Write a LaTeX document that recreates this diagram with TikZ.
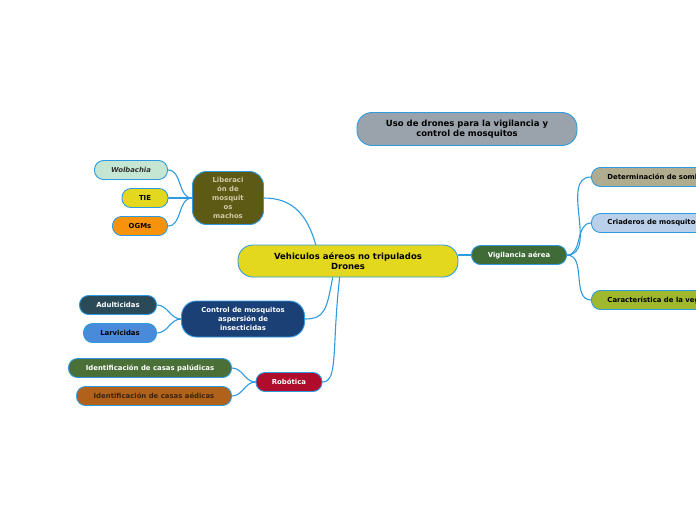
\documentclass[tikz,border=0pt]{standalone}
\usepackage{fontspec}
\setmainfont{DejaVu Sans}
\usetikzlibrary{positioning}

\definecolor{dmLink}{HTML}{2E9BE0}
\definecolor{dmTitleGray}{HTML}{9AA3AB}
\definecolor{dmYellow}{HTML}{E4D81E}
\definecolor{dmOlive}{HTML}{5C5A14}
\definecolor{dmOliveText}{HTML}{D2CAA8}
\definecolor{dmMint}{HTML}{C4E6D2}
\definecolor{dmOrange}{HTML}{F7920C}
\definecolor{dmNavy}{HTML}{1B4075}
\definecolor{dmSlate}{HTML}{2B4A57}
\definecolor{dmSky}{HTML}{4A8ADA}
\definecolor{dmRed}{HTML}{B00D2C}
\definecolor{dmGreen}{HTML}{4A7038}
\definecolor{dmBrown}{HTML}{B0611A}
\definecolor{dmBrownText}{HTML}{3A2410}
\definecolor{dmVigGreen}{HTML}{3F6B37}
\definecolor{dmKhaki}{HTML}{B0AC8F}
\definecolor{dmPaleBlue}{HTML}{BAD0EA}
\definecolor{dmLime}{HTML}{A0B82E}

\def\DronMapLinkLW{1.1pt}
\def\DronMapBorderLW{0.9pt}
\def\DronMapLeafH{19pt}
\newcommand{\DronMapStyles}{%
  \tikzset{
    dmbox/.style={rectangle, draw=dmLink, line width=\DronMapBorderLW,
      rounded corners=9pt, align=center, inner sep=0pt,
      font=\fontsize{6.9}{8.8}\selectfont\bfseries},
    dmleaf/.style={dmbox, minimum height=\DronMapLeafH},
    dmbig/.style={dmbox, rounded corners=15pt,
      font=\fontsize{8.5}{10}\selectfont\bfseries},
    dmright/.style={dmleaf, anchor=west, inner xsep=16pt},
    dmlink/.style={draw=dmLink, line width=\DronMapLinkLW, line cap=round},
  }%
}

\begin{document}
\begin{tikzpicture}[x=1pt, y=-1pt]
  \DronMapStyles
  \useasboundingbox (0,0) rectangle (696,520);
  \clip (0,0) rectangle (696,520);

  % title and central node
  \node[dmbig, fill=dmTitleGray, minimum width=220pt, minimum height=33pt]
    (title) at (467,129) {Uso de drones para la vigilancia y\\control de mosquitos};
  \node[dmbig, fill=dmYellow, minimum width=220pt, minimum height=32pt]
    (central) at (348,261) {Vehiculos aéreos no tripulados\\Drones};

  % main branches
  \node[dmbox, fill=dmOlive, text=dmOliveText, rounded corners=14pt,
    minimum width=71pt, minimum height=53pt] (libera) at (228,198)
    {Liberaci\\ón de\\mosquit\\os\\machos};
  \node[dmbox, fill=dmNavy, text=white, rounded corners=15pt,
    minimum width=123pt, minimum height=36pt] (control) at (243,319)
    {Control de mosquitos\\aspersión de\\insecticidas};
  \node[dmleaf, fill=dmRed, text=white, minimum width=66pt] (robot) at (289,382) {Robótica};
  \node[dmleaf, fill=dmVigGreen, text=white, minimum width=95pt] (vigila) at (519,255) {Vigilancia aérea};

  % leaves on the left
  \node[dmleaf, fill=dmMint, text=black!80, minimum width=73pt,
    font=\fontsize{6.9}{8.8}\selectfont\bfseries\itshape] (wolba) at (131,170) {Wolbachia};
  \node[dmleaf, fill=dmYellow, minimum width=46pt] (tie) at (145,198) {TIE};
  \node[dmleaf, fill=dmOrange, minimum width=55pt] (ogm) at (140,226) {OGMs};
  \node[dmleaf, fill=dmSlate, text=white, minimum width=77pt] (adulti) at (118,305) {Adulticidas};
  \node[dmleaf, fill=dmSky, minimum width=73pt] (larvi) at (120,333) {Larvicidas};
  \node[dmleaf, fill=dmGreen, text=white, minimum width=163pt] (paludi) at (150,368)
    {Identificación de casas palúdicas};
  \node[dmleaf, fill=dmBrown, text=dmBrownText, minimum width=155pt] (aedica) at (154,396)
    {Identificación de casas aédicas};

  % leaves on the right (cut by the page edge)
  \node[dmright, fill=dmKhaki] (sombra) at (591,177) {Determinación de sombras};
  \node[dmright, fill=dmPaleBlue] (criad) at (591,223) {Criaderos de mosquitos};
  \node[dmright, fill=dmLime] (vegeta) at (591,300) {Característica de la vegetación};

  % connectors
  \draw[dmlink] (central.153) .. controls +(-8,-28) and +(30,0) .. (libera.east);
  \draw[dmlink] (central.227) .. controls +(-6,32) and +(20,0) .. (control.east);
  \draw[dmlink] (central.243) .. controls +(-8,70) and +(16,0) .. (robot.east);
  \draw[dmlink] (central.east |- vigila.west) -- (vigila.west);

  \foreach \leaf in {wolba, tie, ogm}
    \draw[dmlink] (libera.west) to[out=180, in=0] (\leaf.east);
  \foreach \leaf in {adulti, larvi}
    \draw[dmlink] (control.west) to[out=180, in=0] (\leaf.east);
  \foreach \leaf in {paludi, aedica}
    \draw[dmlink] (robot.west) to[out=180, in=0] (\leaf.east);
  \foreach \leaf in {sombra, criad, vegeta}
    \draw[dmlink] (vigila.east) to[out=0, in=180] (\leaf.west);
\end{tikzpicture}
\end{document}
